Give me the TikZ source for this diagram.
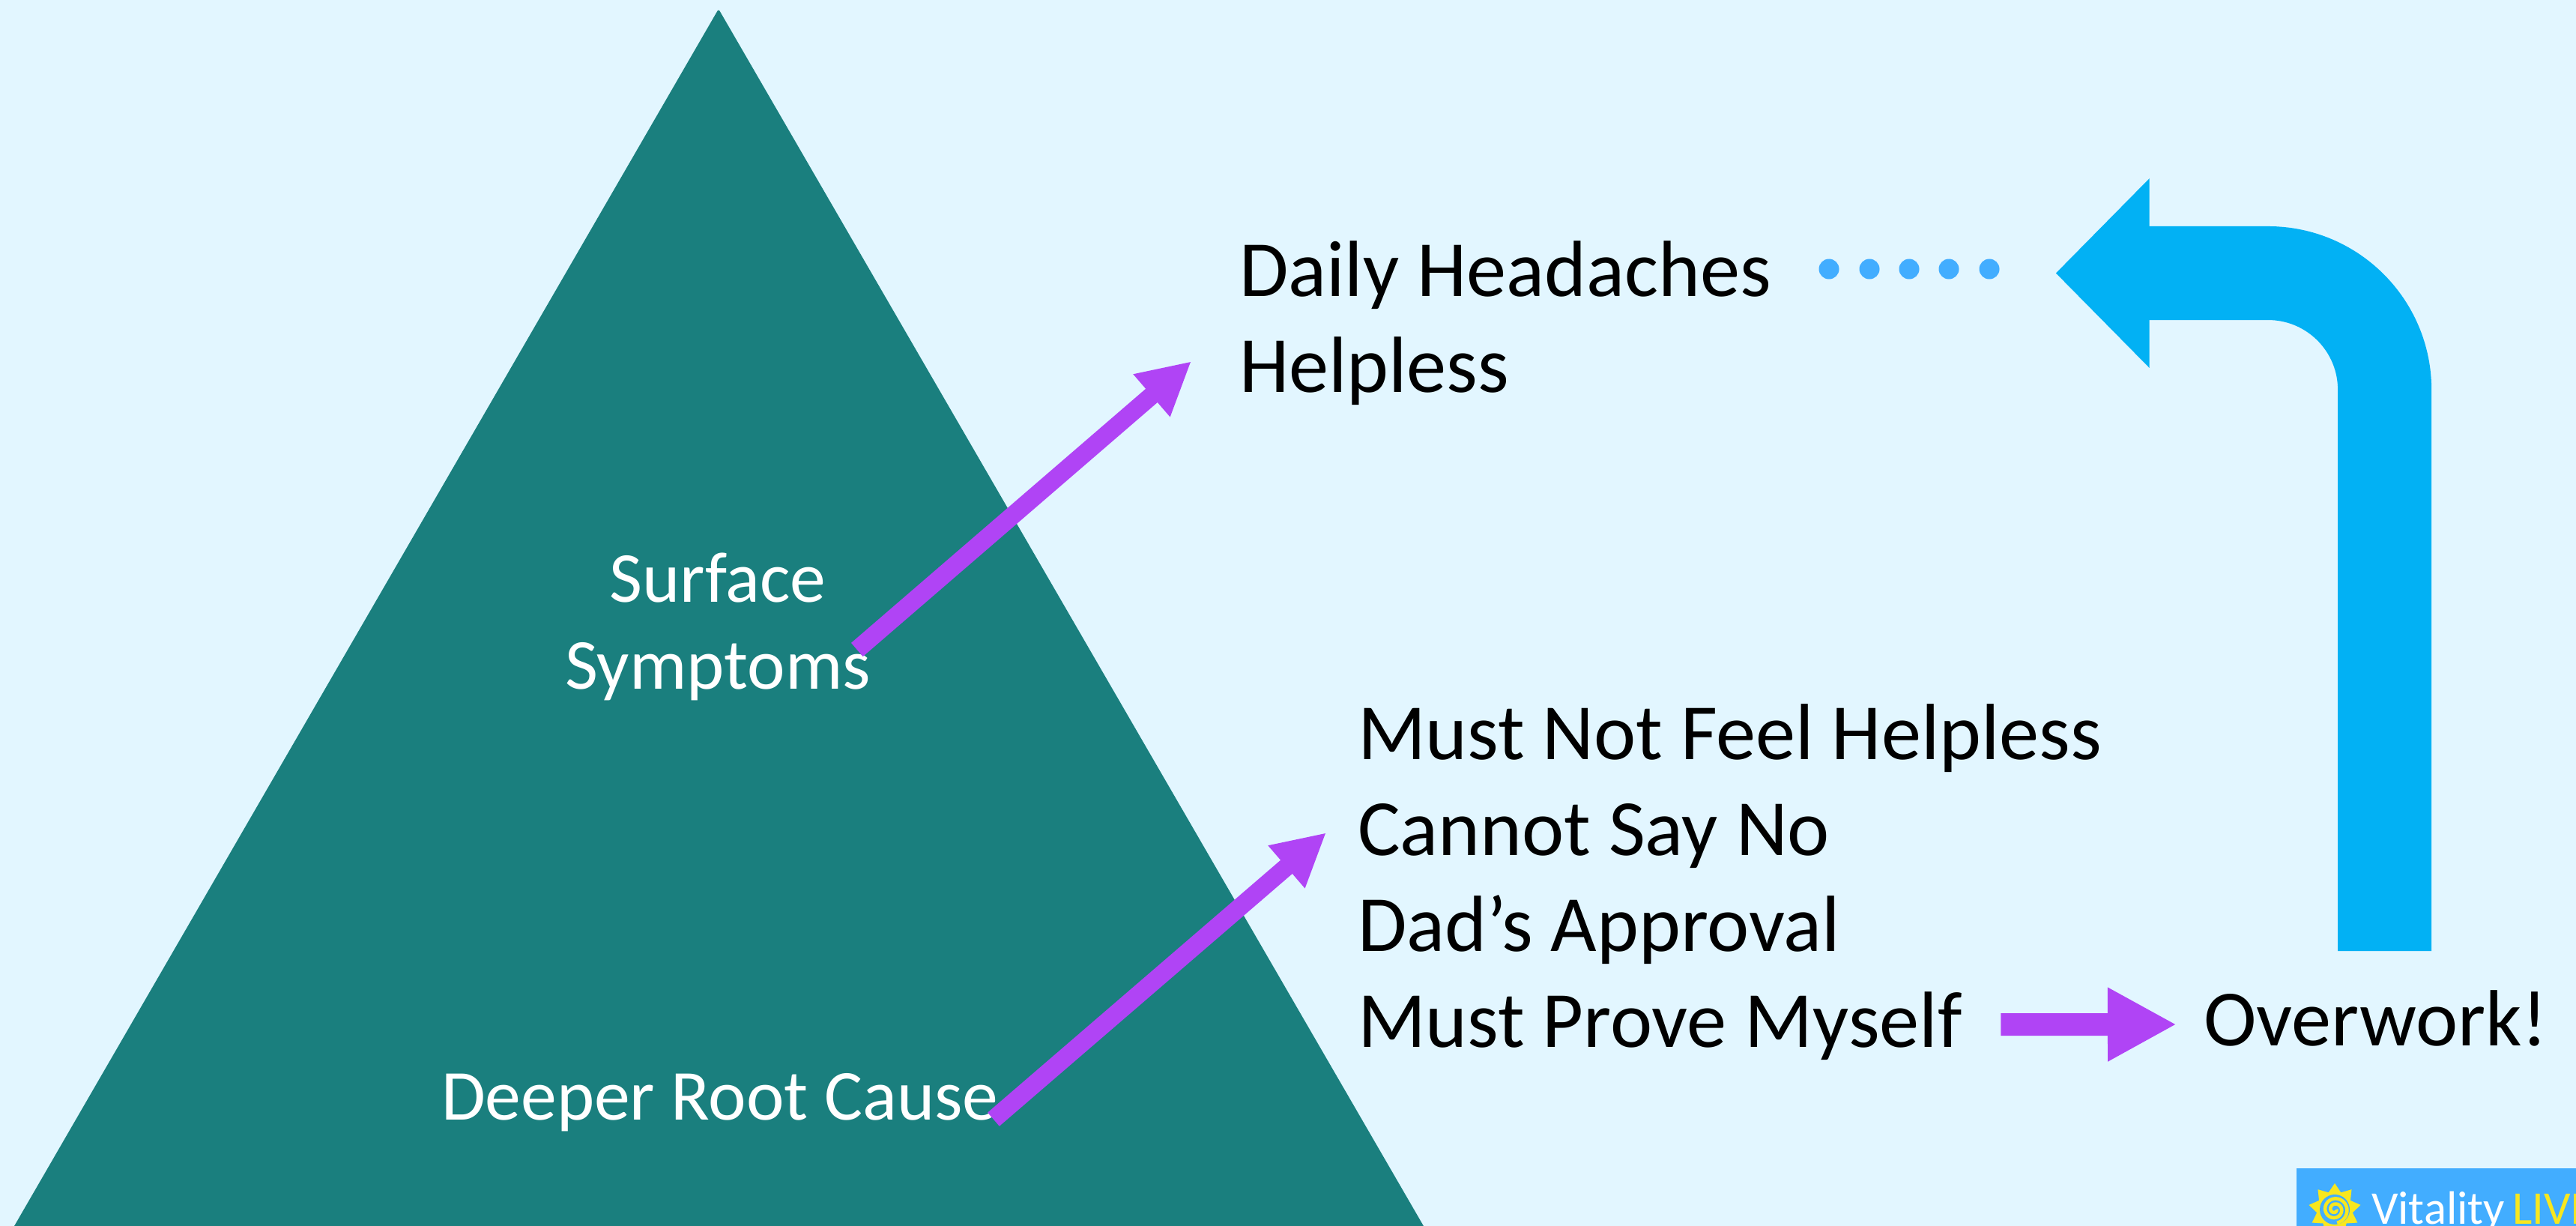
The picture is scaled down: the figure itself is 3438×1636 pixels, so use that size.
\documentclass[tikz,border=0pt]{standalone}
\usepackage{fontspec}
\setmainfont{Carlito}
\usetikzlibrary{positioning, arrows.meta, shapes.geometric}

\definecolor{skybg}{HTML}{E2F6FF}
\definecolor{iceberg}{HTML}{1A7F7E}
\definecolor{violet}{HTML}{B044F5}
\definecolor{loopblue}{HTML}{02B1F4}
\definecolor{dotblue}{HTML}{42ADFF}
\definecolor{sunyellow}{HTML}{F8E71F}

\begin{document}
\begin{tikzpicture}
    [x=0.01cm, y=-0.01cm,
     every node/.style={inner sep=0pt, outer sep=0pt},
     big/.style={font=\fontsize{30.25pt}{36pt}\selectfont, text=black, anchor=base west},
     small/.style={font=\fontsize{27.2pt}{33pt}\selectfont, text=white, anchor=base},
     dot/.style={circle, fill=dotblue, minimum size=0.27cm},
     arr/.style={draw=violet, line width=0.24cm, -{Triangle[length=0.7cm, width=0.7cm]}},
     fatarr/.style={draw=violet, line width=0.3cm, -{Triangle[length=0.92cm, width=0.92cm]}},
     looparr/.style={draw=loopblue, line width=1.25cm, rounded corners=1.555cm,
                     -{Triangle[length=1.25cm, width=2.45cm]}},
    ]
    \useasboundingbox (0,0) rectangle (3438,1636);
    \clip (0,0) rectangle (3438,1636);
    \fill [skybg] (0,0) rectangle (3438,1636);
    \fill [iceberg, rounded corners=0.03cm] (959,12) -- (1937,1700) -- (-18,1700) -- cycle;

    \node (surface) [small] at (958,803) {Surface};
    \node (symptoms) [small, below=1.16cm of surface.base, anchor=base] {Symptoms};
    \node (rootcause) [small, anchor=base west] at (589,1494) {Deeper Root Cause};

    \node (headaches) [big] at (1654,395) {Daily Headaches};
    \node (helpless) [big, below=1.28cm of headaches.base west, anchor=base west] {Helpless};

    \node (mustnot) [big] at (1812,1013) {Must Not Feel Helpless};
    \node (sayno) [big, below=1.28cm of mustnot.base west, anchor=base west] {Cannot Say No};
    \node (approval) [big, below=1.28cm of sayno.base west, anchor=base west] {Dad’s Approval};
    \node (prove) [big, below=1.28cm of approval.base west, anchor=base west] {Must Prove Myself};
    \node (overwork) [big] at (2941,1395) {Overwork!};

    \foreach \i/\x in {1/2441, 2/2495, 3/2548, 4/2601, 5/2655}
        \node (dot\i) [dot] at (\x,359) {};

    \draw [arr] ([shift={(-18,10)}]symptoms.north east) -- ([shift={(-64,70)}]headaches.south west);
    \draw [arr] ([shift={(-6.5,23)}]rootcause.east) -- ([shift={(-42,81)}]mustnot.south west);
    \draw [fatarr] ([shift={(52,-30)}]prove.base east) -- ([shift={(-36,-28)}]overwork.base west);
    \draw [looparr] ([shift={(12,-52)}]overwork.north) |- ([shift={(75,5.5)}]dot5.east);

    % logo in the corner
    \fill [dotblue] (3065,1559) rectangle (3438,1636);
    \node (sun) [star, star points=9, star point ratio=1.45, minimum size=0.7cm, fill=sunyellow] at (3116,1614) {};
    \fill [dotblue] (sun.center) circle [radius=20];
    \draw [sunyellow, line width=0.045cm, shift={(sun.center)}] plot [domain=0:800, samples=80, smooth]
        ({(2+\x*0.02)*cos(\x)}, {(2+\x*0.02)*sin(\x)});
    \node (vitality) [font=\fontsize{17.8pt}{20pt}\selectfont, text=white, anchor=base west] at (3165,1633) {Vitality};
    \node (living) [font=\fontsize{17.8pt}{20pt}\selectfont, text=sunyellow, anchor=base west] at (3353,1633) {LIVI};
\end{tikzpicture}
\end{document}
